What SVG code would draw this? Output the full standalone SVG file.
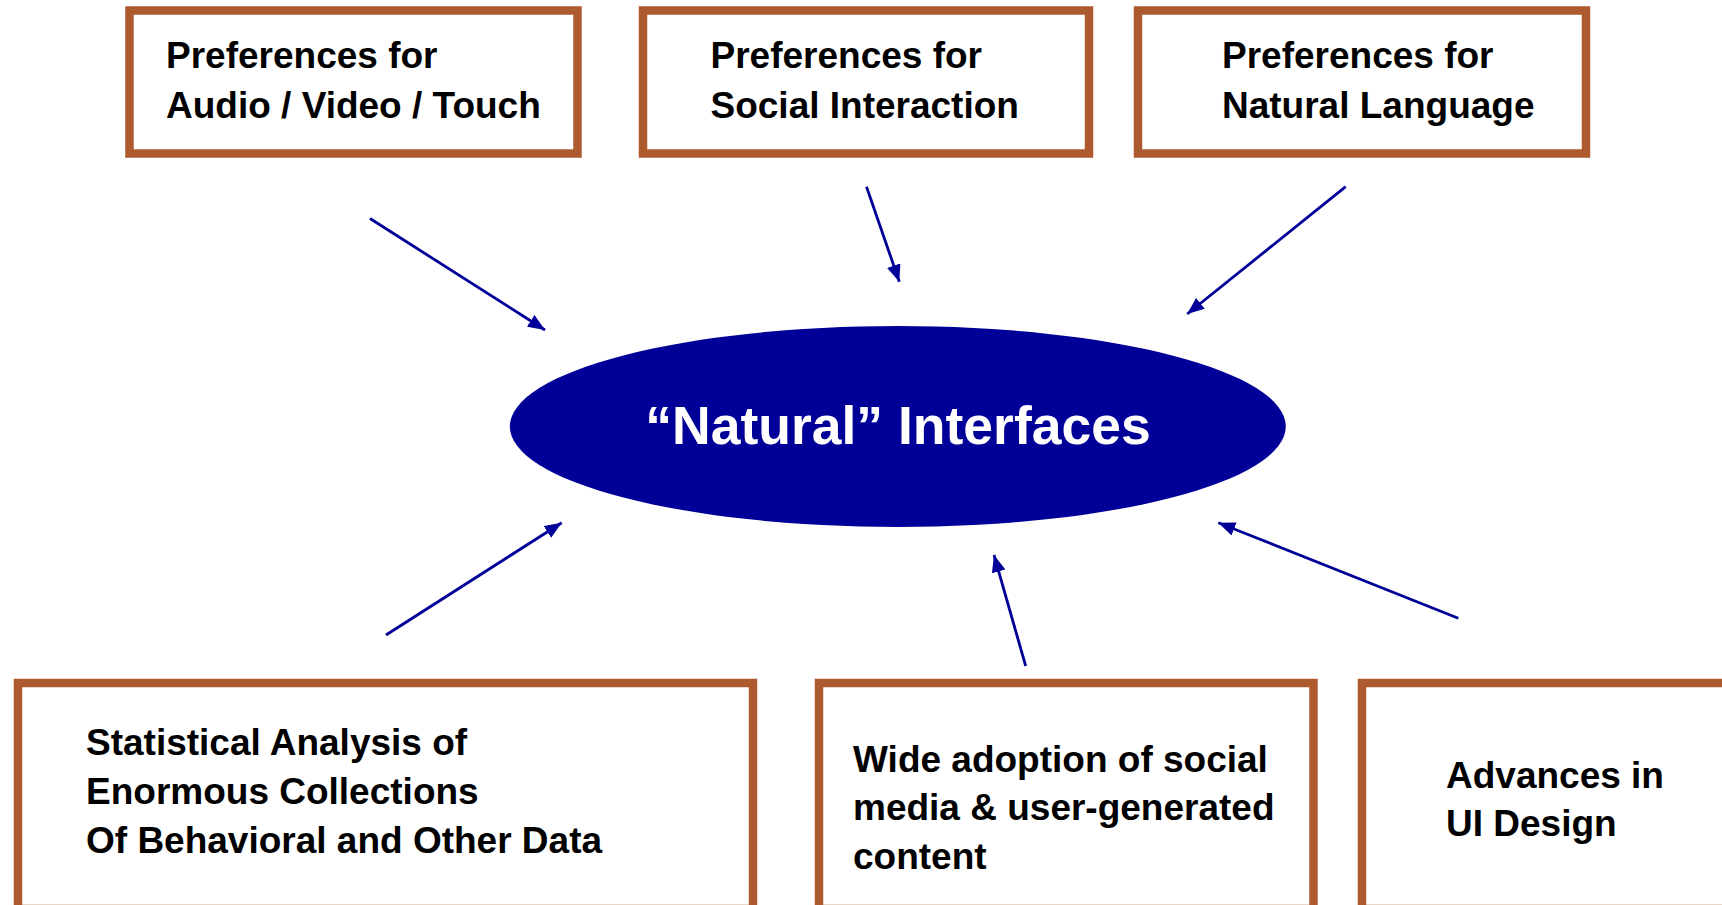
<svg xmlns="http://www.w3.org/2000/svg" width="1722" height="905" viewBox="0 0 1722 905">
<style>
.box{fill:#ffffff;stroke:#AD5A2F;stroke-width:8.5}
.lbl{font-family:"Liberation Sans",Arial,sans-serif;font-weight:bold;font-size:37px;fill:#000000}
.conn{stroke:#000099;stroke-width:2.8;fill:none;marker-end:url(#ah)}
.center{font-family:"Liberation Sans",Arial,sans-serif;font-weight:bold;font-size:53.5px;fill:#ffffff}
</style>
<defs>
<marker id="ah" markerUnits="userSpaceOnUse" markerWidth="18" markerHeight="14" refX="17" refY="7" orient="auto">
<path d="M0,0 L17,7 L0,14 z" fill="#000099"/>
</marker>
</defs>
<rect width="1722" height="905" fill="#ffffff"/>
<g id="n-audio">
<rect class="box" x="129.5" y="10.5" width="448" height="143"/>
<text class="lbl" x="166" y="68">Preferences for</text>
<text class="lbl" x="166" y="118">Audio / Video / Touch</text>
</g>
<g id="n-social">
<rect class="box" x="643" y="10.5" width="446" height="143"/>
<text class="lbl" x="710.5" y="68">Preferences for</text>
<text class="lbl" x="710.5" y="118">Social Interaction</text>
</g>
<g id="n-language">
<rect class="box" x="1138" y="10.5" width="448" height="143"/>
<text class="lbl" x="1222" y="68">Preferences for</text>
<text class="lbl" x="1222" y="118">Natural Language</text>
</g>
<g id="n-center">
<ellipse cx="897.8" cy="426.5" rx="388" ry="100.5" fill="#000099"/>
<text class="center" x="898" y="444" text-anchor="middle">“Natural” Interfaces</text>
</g>
<g id="n-stats">
<rect class="box" x="18" y="683" width="735" height="226"/>
<text class="lbl" x="86" y="755">Statistical Analysis of</text>
<text class="lbl" x="86" y="804">Enormous Collections</text>
<text class="lbl" x="86" y="853">Of Behavioral and Other Data</text>
</g>
<g id="n-media">
<rect class="box" x="819" y="683" width="494.5" height="226"/>
<text class="lbl" x="853" y="772">Wide adoption of social</text>
<text class="lbl" x="853" y="820">media &amp; user-generated</text>
<text class="lbl" x="853" y="869">content</text>
</g>
<g id="n-ui">
<rect class="box" x="1362" y="683" width="400" height="226"/>
<text class="lbl" x="1446" y="788">Advances in</text>
<text class="lbl" x="1446" y="836">UI Design</text>
</g>
<g id="connectors">
<line class="conn" x1="370" y1="218.5" x2="545" y2="330"/>
<line class="conn" x1="866.5" y1="186.7" x2="899.3" y2="281.7"/>
<line class="conn" x1="1345.7" y1="186.7" x2="1187.2" y2="314"/>
<line class="conn" x1="386" y1="635" x2="561.7" y2="522.7"/>
<line class="conn" x1="1025.7" y1="666" x2="994" y2="555"/>
<line class="conn" x1="1458.3" y1="618.3" x2="1218.3" y2="522.7"/>
</g>
</svg>
